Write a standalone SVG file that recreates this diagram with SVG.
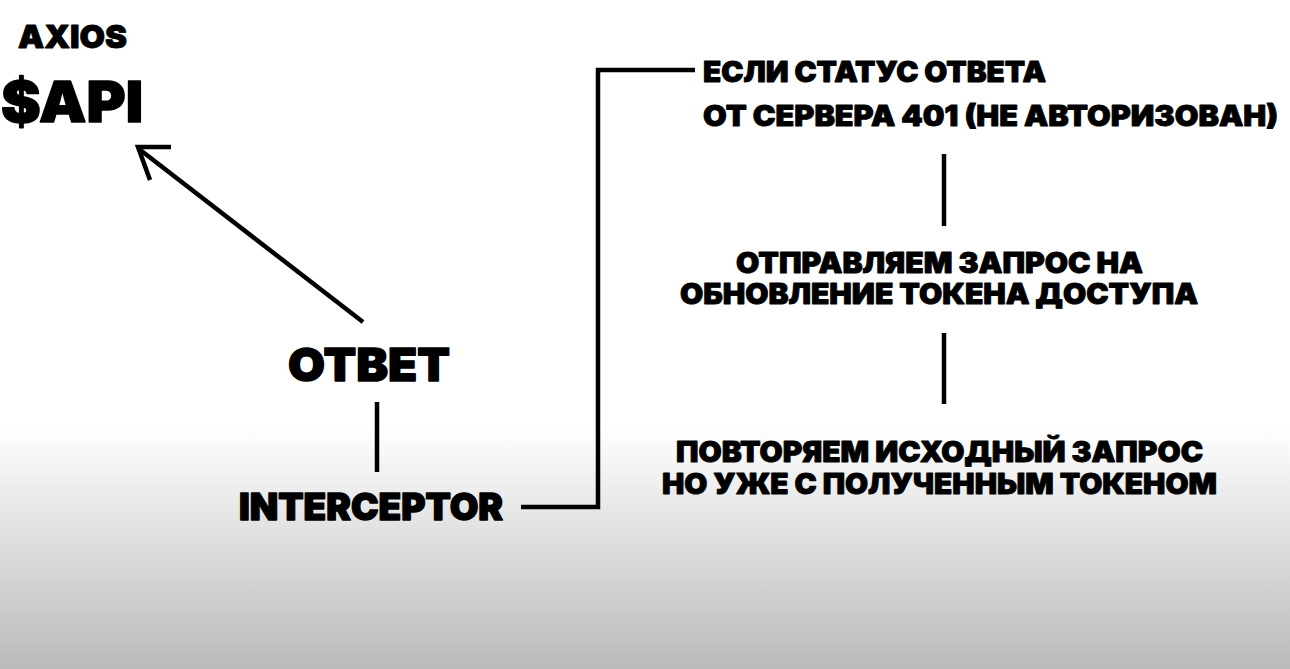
<svg xmlns="http://www.w3.org/2000/svg" width="1290" height="669" viewBox="0 0 1290 669">
<defs>
<linearGradient id="bg" x1="0" y1="0" x2="0" y2="1">
<stop offset="0" stop-color="#ffffff"/>
<stop offset="0.64" stop-color="#ffffff"/>
<stop offset="0.78" stop-color="#e4e4e4"/>
<stop offset="1" stop-color="#bababa"/>
</linearGradient>
</defs>
<style>
text{font-family:Inter,"Noto Sans","DejaVu Sans",sans-serif;font-weight:900;fill:#000;stroke:#000;stroke-width:0.9;stroke-linejoin:round}
.big{stroke-width:1.4}
.ln{stroke:#000;stroke-width:4.5;fill:none;stroke-linecap:butt}
</style>
<rect width="1290" height="669" fill="url(#bg)"/>
<g id="axios"><text x="18" y="48" font-size="32" textLength="109" lengthAdjust="spacingAndGlyphs">AXIOS</text></g>
<g id="api"><text class="big" x="1" y="122" font-size="57" textLength="142" lengthAdjust="spacingAndGlyphs">$API</text></g>
<g id="otvet"><text class="big" x="288" y="381" font-size="46" textLength="162" lengthAdjust="spacingAndGlyphs">ОТВЕТ</text></g>
<g id="interceptor"><text class="big" x="239" y="520" font-size="37" textLength="264" lengthAdjust="spacingAndGlyphs">INTERCEPTOR</text></g>
<g id="status">
<text x="703" y="82" font-size="28" textLength="343" lengthAdjust="spacingAndGlyphs">ЕСЛИ СТАТУС ОТВЕТА</text>
<text x="703" y="126" font-size="28" textLength="575" lengthAdjust="spacingAndGlyphs">ОТ СЕРВЕРА 401 (НЕ АВТОРИЗОВАН)</text>
</g>
<g id="refresh">
<text x="736" y="273" font-size="28" textLength="407" lengthAdjust="spacingAndGlyphs">ОТПРАВЛЯЕМ ЗАПРОС НА</text>
<text x="680" y="304" font-size="28" textLength="518" lengthAdjust="spacingAndGlyphs">ОБНОВЛЕНИЕ ТОКЕНА ДОСТУПА</text>
</g>
<g id="repeat">
<text x="676" y="462" font-size="28" textLength="527" lengthAdjust="spacingAndGlyphs">ПОВТОРЯЕМ ИСХОДНЫЙ ЗАПРОС</text>
<text x="662" y="494" font-size="28" textLength="555" lengthAdjust="spacingAndGlyphs">НО УЖЕ С ПОЛУЧЕННЫМ ТОКЕНОМ</text>
</g>
<g id="connectors">
<line class="ln" x1="363" y1="322" x2="139" y2="149"/>
<polyline class="ln" points="171,147 138,147 150,180" stroke-linejoin="miter"/>
<line class="ln" x1="377" y1="402" x2="377" y2="472"/>
<polyline class="ln" points="521,507 598,507 598,70 695,70"/>
<line class="ln" x1="944" y1="154" x2="944" y2="226"/>
<line class="ln" x1="944" y1="333" x2="944" y2="404"/>
</g>
</svg>
